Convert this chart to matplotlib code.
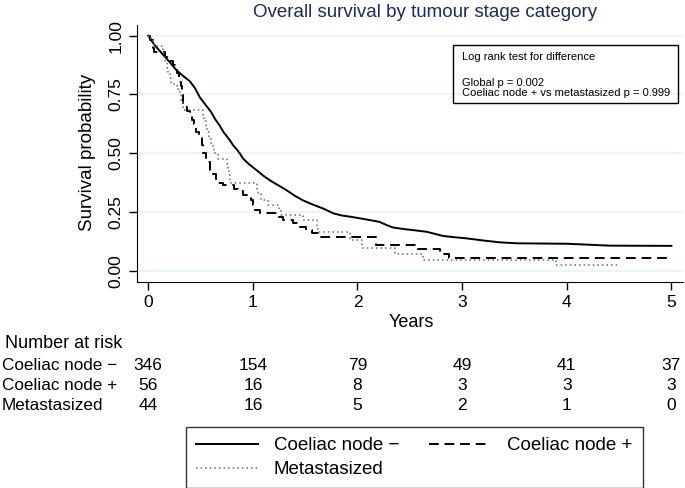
import matplotlib
matplotlib.use("Agg")
import matplotlib.pyplot as plt
from matplotlib.lines import Line2D
from matplotlib.patches import Rectangle
from matplotlib.transforms import blended_transform_factory

plt.rcParams["font.family"] = ["Liberation Sans", "DejaVu Sans"]

# Kaplan-Meier estimates (time in years, survival)
neg_t = [0, 0.03, 0.06, 0.10, 0.16, 0.22, 0.27, 0.33, 0.40, 0.45, 0.49, 0.55, 0.60,
         0.64, 0.68, 0.72, 0.78, 0.81, 0.85, 0.875, 0.906, 0.96, 1.034, 1.10, 1.16,
         1.24, 1.32, 1.40, 1.48, 1.57, 1.67, 1.77, 1.85, 1.93, 2.05, 2.21, 2.28, 2.34,
         2.45, 2.53, 2.66, 2.74, 2.82, 2.92, 3.04, 3.20, 3.36, 3.52, 4.00, 4.16, 4.41, 5.00]
neg_s = [1.0, 0.98, 0.96, 0.94, 0.91, 0.88, 0.853, 0.83, 0.805, 0.775, 0.74, 0.705, 0.676,
         0.645, 0.62, 0.59, 0.556, 0.535, 0.515, 0.50, 0.478, 0.455, 0.429, 0.405, 0.386,
         0.365, 0.344, 0.32, 0.30, 0.283, 0.266, 0.245, 0.236, 0.231, 0.222, 0.209, 0.195, 0.185,
         0.178, 0.174, 0.167, 0.158, 0.149, 0.144, 0.139, 0.13, 0.122, 0.118, 0.116, 0.113, 0.108, 0.107]

pos_t = [0, 0.02, 0.046, 0.06, 0.16, 0.20, 0.24, 0.26, 0.28, 0.29, 0.31, 0.32, 0.335, 0.35,
         0.37, 0.40, 0.42, 0.44, 0.46, 0.49, 0.51, 0.52, 0.55, 0.56, 0.59, 0.62, 0.65, 0.67,
         0.715, 0.82, 0.86, 0.91, 0.98, 1.0, 1.02, 1.066, 1.25, 1.29, 1.38, 1.44, 1.51, 1.57,
         1.64, 2.18, 2.55, 2.79, 2.87, 5.0]
pos_s = [1.0, 0.982, 0.946, 0.929, 0.911, 0.893, 0.875, 0.857, 0.839, 0.804, 0.786, 0.75,
         0.714, 0.696, 0.679, 0.661, 0.643, 0.625, 0.589, 0.571, 0.536, 0.50, 0.482, 0.464,
         0.429, 0.411, 0.393, 0.375, 0.366, 0.348, 0.339, 0.321, 0.30, 0.28, 0.259, 0.245,
         0.231, 0.217, 0.203, 0.188, 0.174, 0.160, 0.143, 0.11, 0.092, 0.072, 0.054, 0.054]

met_t = [0, 0.03, 0.06, 0.14, 0.155, 0.165, 0.18, 0.19, 0.21, 0.22, 0.28, 0.30, 0.315, 0.33,
         0.335, 0.52, 0.53, 0.55, 0.565, 0.58, 0.60, 0.615, 0.625, 0.665, 0.75, 0.76, 0.77,
         0.78, 0.795, 1.04, 1.05, 1.08, 1.145, 1.25, 1.27, 1.48, 1.61, 1.62, 1.93, 2.04, 2.36,
         2.63, 3.90, 4.48]
met_s = [1.0, 0.977, 0.955, 0.932, 0.909, 0.886, 0.864, 0.841, 0.818, 0.795, 0.773, 0.75,
         0.727, 0.705, 0.682, 0.659, 0.636, 0.614, 0.591, 0.568, 0.545, 0.523, 0.50, 0.477,
         0.455, 0.432, 0.409, 0.386, 0.372, 0.349, 0.326, 0.303, 0.28, 0.258, 0.236, 0.217,
         0.19, 0.167, 0.132, 0.096, 0.072, 0.047, 0.024, 0.024]

groups = ["Coeliac node \u2212", "Coeliac node +", "Metastasized"]
risk_times = [0, 1, 2, 3, 4, 5]
risk_neg = [346, 154, 79, 49, 41, 37]
risk_pos = [56, 16, 8, 3, 3, 3]
risk_met = [44, 16, 5, 2, 1, 0]

fig = plt.figure(figsize=(6.85, 4.88), dpi=100)
ax = fig.add_axes([0.2, 0.4228, 0.797, 0.526])

# many tiny steps for the large group, so draw it as a line
ax.plot(neg_t, neg_s, color="black", lw=1.4)
ax.plot(pos_t, pos_s, drawstyle="steps-post", color="black", lw=1.4, dashes=(5, 3))
ax.plot(met_t, met_s, drawstyle="steps-post", color="#6a6a6a", lw=1.1, dashes=(1, 2))

ax.set_xlim(-0.107, 5.11)
ax.set_ylim(-0.045, 1.045)
ax.set_yticks([0, 0.25, 0.5, 0.75, 1.0])
ax.set_yticklabels(["0.00", "0.25", "0.50", "0.75", "1.00"], rotation=90, va="center")
ax.set_xticks(risk_times)
ax.tick_params(labelsize=12.5, length=6, width=1, direction="out")
for y in [0, 0.25, 0.5, 0.75, 1.0]:
    ax.axhline(y, color="#eaf2f3", lw=1.2, zorder=0)
ax.spines["top"].set_visible(False)
ax.spines["right"].set_visible(False)

fig.text(0.6, 0.34, "Years", ha="center", va="center", fontsize=13)
fig.text(0.128, 0.687, "Survival probability", ha="center", va="center",
         rotation=90, fontsize=13.5)
fig.text(0.62, 0.975, "Overall survival by tumour stage category", ha="center",
         va="center", fontsize=13.5, color="#1c2a5c")

# log-rank box
fig.add_artist(Rectangle((453 / 685, 1 - 103 / 488), 225 / 685, 58 / 488,
                         transform=fig.transFigure, fill=False, edgecolor="black", lw=1))
fig.text(462 / 685, 1 - 57 / 488, "Log rank test for difference", fontsize=8, va="center")
fig.text(462 / 685, 1 - 88.5 / 488, "Global p = 0.002\nCoeliac node + vs metastasized p = 0.999",
         fontsize=8, va="center", linespacing=1.0)

# number at risk table
tr = blended_transform_factory(ax.transData, fig.transFigure)
fig.text(0.008, 0.297, "Number at risk", fontsize=13, va="center")
for label, counts, yy in zip(groups, [risk_neg, risk_pos, risk_met], [0.252, 0.211, 0.169]):
    fig.text(0.003, yy, label, fontsize=12.3, va="center")
    for t, n in zip(risk_times, counts):
        ax.text(t, yy, str(n), transform=tr, ha="center", va="center", fontsize=12.5,
                clip_on=False)

handles = [Line2D([], [], color="black", lw=1.4),
           Line2D([], [], color="#6a6a6a", lw=1.1, dashes=(1, 2)),
           Line2D([], [], color="black", lw=1.4, dashes=(5, 3))]
leg = fig.legend(handles, [groups[0], groups[2], groups[1]], ncol=2, loc="upper center",
                 bbox_to_anchor=(0.605, 1 - 427 / 488), fontsize=13.5, frameon=True,
                 fancybox=False, edgecolor="black", handlelength=3.3, columnspacing=1.6,
                 labelspacing=0.35, borderpad=0.55, handletextpad=0.85, borderaxespad=0)
leg.get_frame().set_linewidth(1)

fig.savefig("out.png", dpi=100)
